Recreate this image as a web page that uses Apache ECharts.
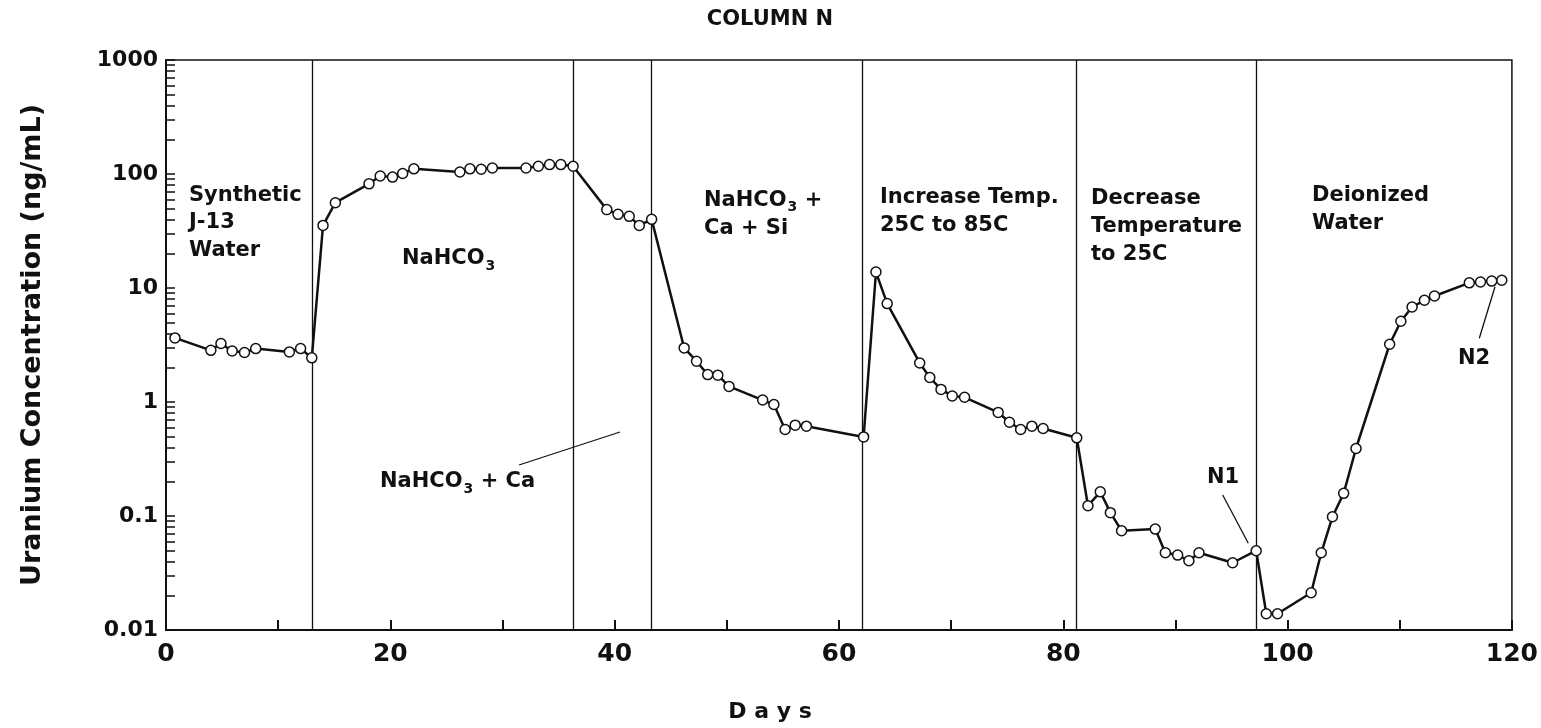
<!DOCTYPE html>
<html>
<head>
<meta charset="utf-8">
<script src="https://cdn.jsdelivr.net/npm/echarts@6/dist/echarts.min.js"></script>
<style>
  html, body { margin: 0; padding: 0; background: #fff; }
  #chart { width: 1541px; height: 728px; }
</style>
</head>
<body>
<div id="chart"></div>
<script type="text/javascript">
// days since start of the run
var days = [0.8, 4.0, 4.9, 5.9, 7.0, 8.0, 11.0, 12.0, 13.0,
    14.0, 15.1, 18.1, 19.1, 20.2, 21.1, 22.1, 26.2, 27.1, 28.1, 29.1, 32.1, 33.2, 34.2, 35.2, 36.3,
    39.3, 40.3, 41.3, 42.2, 43.3,
    46.2, 47.3, 48.3, 49.2, 50.2, 53.2, 54.2, 55.2, 56.1, 57.1, 62.2,
    63.3, 64.3, 67.2, 68.1, 69.1, 70.1, 71.2, 74.2, 75.2, 76.2, 77.2, 78.2, 81.2,
    82.2, 83.3, 84.2, 85.2, 88.2, 89.1, 90.2, 91.2, 92.1, 95.1, 97.2,
    98.1, 99.1, 102.1, 103.0, 104.0, 105.0, 106.1, 109.1, 110.1, 111.1, 112.2, 113.1, 116.2, 117.2, 118.2, 119.1];
// uranium concentration, ng/mL
var uranium = [3.65, 2.84, 3.26, 2.80, 2.72, 2.94, 2.75, 2.94, 2.44,
    35.4, 56, 82, 96, 94, 101, 111, 104, 111, 110, 113, 113, 117, 121, 121, 117,
    48.7, 44.3, 42.5, 35.4, 40,
    2.98, 2.28, 1.74, 1.72, 1.37, 1.04, 0.95, 0.574, 0.626, 0.614, 0.494,
    13.8, 7.3, 2.2, 1.64, 1.29, 1.13, 1.10, 0.81, 0.665, 0.574, 0.614, 0.586, 0.485,
    0.123, 0.163, 0.107, 0.0742, 0.0768, 0.0476, 0.0454, 0.0405, 0.0476, 0.0389, 0.0496,
    0.0139, 0.0139, 0.0212, 0.0476, 0.0984, 0.158, 0.391, 3.21, 5.11, 6.81, 7.8, 8.51, 11.1, 11.3, 11.5, 11.7];
// days where the feed solution changed
var phaseChanges = [13, 36.3, 43.3, 62.1, 81.2, 97.2];
var xTicks = [0, 10, 20, 30, 40, 50, 60, 70, 80, 90, 100, 110, 120];
var decades = [0.01, 0.1, 1, 10, 100, 1000];

var FONT = 'DejaVu Sans';

var yTicks = [];
for (var d = 0; d < decades.length - 1; d++) {
    for (var m = 1; m < 10; m++) {
        yTicks.push(+(decades[d] * m).toPrecision(3));
    }
}
yTicks.push(1000);

var points = [];
for (var i = 0; i < days.length; i++) {
    points.push([days[i], uranium[i]]);
}

var textStyleBase = { fontFamily: FONT, fontWeight: 'bold', fontSize: 21, fill: '#111' };
var rich = { sub: { fontFamily: FONT, fontWeight: 'bold', fontSize: 14, padding: [14, 0, 0, 1], fill: '#111' } };

var graphics = [];
// block of lines, x left, y of first line middle, step between lines
var addText = function(lines, x, y, step) {
    for (var i = 0; i < lines.length; i++) {
        graphics.push({
            type: 'text', x: x, y: y + i * step, silent: true,
            style: Object.assign({}, textStyleBase, {
                text: lines[i], verticalAlign: 'middle', align: 'left', rich: rich
            })
        });
    }
};
var addLeader = function(x1, y1, x2, y2) {
    graphics.push({
        type: 'line', silent: true,
        shape: { x1: x1, y1: y1, x2: x2, y2: y2 },
        style: { stroke: '#111', lineWidth: 1.3 }
    });
};

addText(['Synthetic', 'J-13', 'Water'], 189, 195.5, 27.5);
addText(['NaHCO{sub|3}'], 402, 259, 0);
addText(['NaHCO{sub|3} +', 'Ca + Si'], 704, 200.5, 28.5);
addText(['Increase Temp.', '25C to 85C'], 880, 198, 28);
addText(['Decrease', 'Temperature', 'to 25C'], 1091, 198.5, 28);
addText(['Deionized', 'Water'], 1312, 195.5, 28);
addText(['NaHCO{sub|3} + Ca'], 380, 482, 0);
addText(['N1'], 1207, 478, 0);
addText(['N2'], 1458, 359, 0);
addLeader(519, 465, 620, 432);
addLeader(1222.7, 495, 1248.3, 543.3);
addLeader(1495, 286.7, 1479.3, 338.3);

graphics.push({
    type: 'text', x: 770, y: 20, silent: true,
    style: { text: 'COLUMN N', fontFamily: FONT, fontWeight: 'bold', fontSize: 21, fill: '#111', align: 'center', verticalAlign: 'middle' }
});
graphics.push({
    type: 'text', x: 770, y: 712, silent: true,
    style: { text: 'D a y s', fontFamily: FONT, fontWeight: 'bold', fontSize: 22, fill: '#111', align: 'center', verticalAlign: 'middle' }
});

var option = {
    backgroundColor: '#ffffff',
    animation: false,
    grid: {
        left: 166, right: 28, top: 60, bottom: 98,
        show: true, borderColor: '#111', borderWidth: 1.5, backgroundColor: 'transparent'
    },
    xAxis: {
        type: 'value',
        min: 0, max: 120, interval: 20,
        axisLine: { show: true, onZero: false, lineStyle: { color: '#111', width: 2 } },
        axisTick: { show: true, inside: true, length: 10, customValues: xTicks, lineStyle: { color: '#111', width: 2 } },
        axisLabel: { fontFamily: FONT, fontWeight: 'bold', fontSize: 25, color: '#111', margin: 12 },
        splitLine: { show: false }
    },
    yAxis: {
        type: 'log',
        logBase: 10,
        min: 0.01, max: 1000,
        name: 'Uranium Concentration (ng/mL)',
        nameLocation: 'middle',
        nameGap: 120,
        nameRotate: 90,
        nameTextStyle: { fontFamily: FONT, fontWeight: 'bold', fontSize: 27, color: '#111' },
        axisLine: { show: true, lineStyle: { color: '#111', width: 2 } },
        axisTick: { show: true, inside: true, length: 9, customValues: yTicks, lineStyle: { color: '#111', width: 1.5 } },
        axisLabel: {
            fontFamily: FONT, fontWeight: 'bold', fontSize: 22, color: '#111', margin: 8,
            customValues: decades,
            formatter: function(v) { return String(parseFloat((+v).toPrecision(6))); }
        },
        splitLine: { show: false }
    },
    graphic: graphics,
    series: [{
        type: 'line',
        data: points,
        symbol: 'circle',
        symbolSize: 10,
        lineStyle: { color: '#111', width: 2.5 },
        itemStyle: { color: '#fff', borderColor: '#111', borderWidth: 1.5 },
        z: 3,
        markLine: {
            silent: true,
            symbol: 'none',
            label: { show: false },
            lineStyle: { color: '#111', width: 1.3, type: 'solid' },
            z: 1,
            data: phaseChanges.map(function(v) { return { xAxis: v }; })
        }
    }]
};

var chart = echarts.init(document.getElementById('chart'));
chart.setOption(option);
</script>
</body>
</html>
